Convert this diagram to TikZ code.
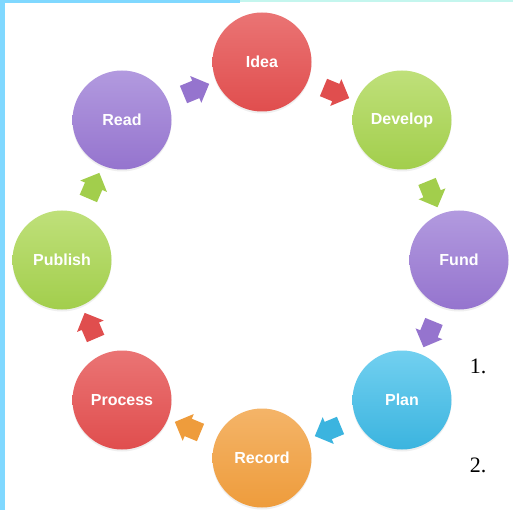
\documentclass[tikz,border=0pt]{standalone}
\usepackage{fontspec}
\setmainfont{Liberation Sans}
\newfontfamily\serifnum{Liberation Serif}
\usetikzlibrary{shapes.arrows,shadows,calc}
\definecolor{redB}{HTML}{E04E4E}\definecolor{redT}{HTML}{EA7474}
\definecolor{grnB}{HTML}{A2CE4C}\definecolor{grnT}{HTML}{BFE07A}
\definecolor{purB}{HTML}{9574CE}\definecolor{purT}{HTML}{B29ADF}
\definecolor{cyaB}{HTML}{3BB4DF}\definecolor{cyaT}{HTML}{72D0F0}
\definecolor{orgB}{HTML}{EE9C3C}\definecolor{orgT}{HTML}{F4B468}
\definecolor{edgeBlue}{HTML}{80D8FF}\definecolor{edgeCyan}{HTML}{C4F6EE}
\tikzset{
  stage/.style={circle, minimum size=99pt, inner sep=0pt, text=white,
    font=\fontsize{16}{19}\selectfont\bfseries,
    drop shadow={opacity=0.12, shadow xshift=0pt, shadow yshift=-2pt}},
  redc/.style={stage, top color=redT, bottom color=redB},
  grnc/.style={stage, top color=grnT, bottom color=grnB},
  purc/.style={stage, top color=purT, bottom color=purB},
  cyac/.style={stage, top color=cyaT, bottom color=cyaB},
  orgc/.style={stage, top color=orgT, bottom color=orgB},
  blockarrow/.style={single arrow, draw=none, fill=#1, minimum height=27pt,
    minimum width=29pt, single arrow head extend=5pt, inner sep=9pt,
    single arrow head indent=0pt},
  num/.style={font=\serifnum\fontsize{22}{26}\selectfont, inner sep=0pt}
}
\begin{document}
\begin{tikzpicture}[x=1pt,y=-1pt]
\useasboundingbox (0,0) rectangle (513,510);
\fill[white] (0,0) rectangle (513,510);
\fill[edgeCyan] (238,0) rectangle (513,2);
\fill[edgeBlue] (0,0) rectangle (240,3);
\fill[edgeBlue] (0,0) rectangle (5,510);

\node[redc] (idea) at (262,62) {Idea};
\node[grnc] (develop) at (402,120) {Develop};
\node[purc] (fund) at (459,260) {Fund};
\node[cyac] (plan) at (402,400) {Plan};
\node[orgc] (record) at (262,458) {Record};
\node[redc] (process) at (122,400) {Process};
\node[grnc] (publish) at (62,260) {Publish};
\node[purc] (read) at (122,120) {Read};

\foreach \sa/\sb/\sc/\sn in {idea/develop/redB/a1, develop/fund/grnB/a2, fund/plan/purB/a3,
  plan/record/cyaB/a4, record/process/orgB/a5, process/publish/redB/a6,
  publish/read/grnB/a7, read/idea/purB/a8}{
  \path let \p1=($(\sb)-(\sa)$), \n1={atan2(\y1,\x1)} in
    node[blockarrow=\sc, rotate=\n1] (\sn) at ($(\sa)!0.5!(\sb)$) {};
}

\node[num] (n1) at (478,366) {1.};
\node[num] (n2) at (478,465) {2.};
\end{tikzpicture}
\end{document}
